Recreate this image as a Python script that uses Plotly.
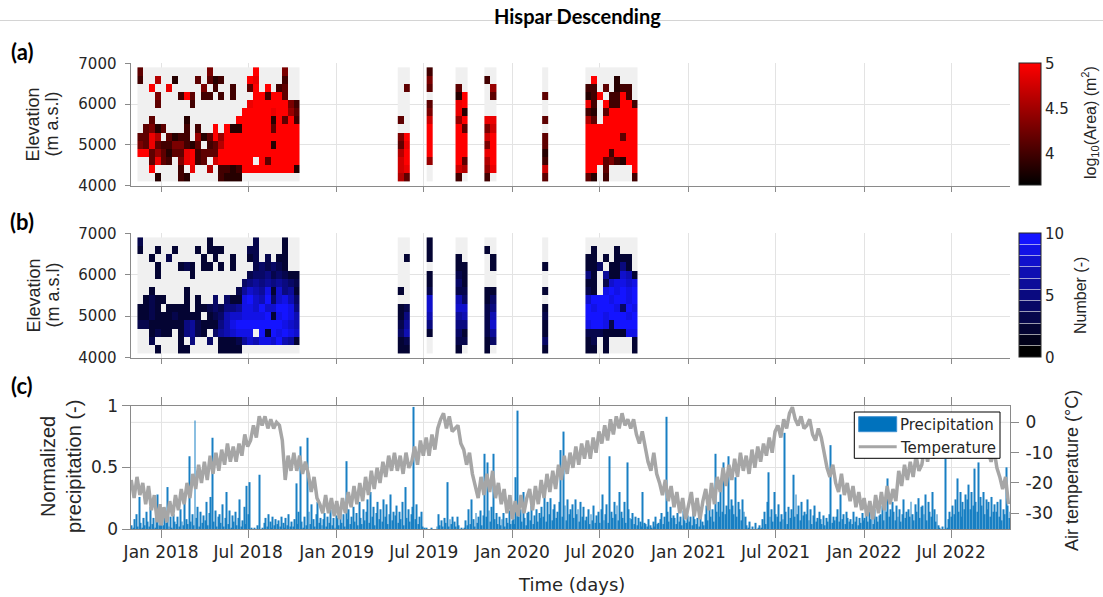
import pandas as pd
import plotly.graph_objects as go

W, H = 1103, 597
DAY_MS = 86400000

# ---------------------------------------------------------------- elevation bins
elev_edges = [4100, 4300, 4500, 4700, 4900, 5100, 5300, 5500, 5700, 5900,
              6100, 6300, 6500, 6700, 6900]

# ---------------------------------------------------------------- 12-day acquisition windows
window_starts = ["2017-11-13", "2019-05-08", "2019-07-07", "2019-09-05",
                 "2019-11-04", "2020-03-03", "2020-06-01"]
window_bins = [28, 2, 1, 2, 2, 1, 9]

# log10(area) class per cell, rows from 6800 m (top) to 4200 m (bottom); '.' = nothing detected
area_codes = [
    ["3......" ".....4." "......9" "....4..",
     "2..6..1" "...3.31" "2....98" "....2..",
     "..9..8." "....4.2" "..2..39" ".9.23..",
     "...4..." "293.22." "2.2...9" "92993..",
     "...3..." "..2...." ".....89" "9999942",
     "......." "......." "....999" "9989953",
     "..3...." ".1....." "...9999" "9919392",
     ".3413.." ".2.2..9" ".911999" "9939999",
     "3386.31" "22.5139" "5999999" "9999999",
     "4383224" "4213.23" "6999999" "9919999",
     "9935313" "3892333" "9999999" "9999999",
     "..3832." "48923.7" "999999." "9399999",
     "..9...." "2.8..6." "2212999" "9999991",
     "...1..." "21....." "2111..." "......."],
    ["..", "..", ".3", "..", "..", "..", "3.", "..", "49", "38", "69", "79", "78", "63"],
    ["2", "4", "3", ".", "3", "4", "7", "9", "9", "9", "9", "5", ".", "."],
    ["..", "..", "3.", "19", "89", "81", "59", "93", "99", "99", "99", "93", "76", "2."],
    ["..", "2.", ".5", ".3", "..", "..", "88", "47", "79", "49", "89", "69", "58", "2."],
    [".", ".", ".", "3", ".", ".", "3", ".", "3", "3", "1", "2", "7", "3"],
    [".........", ".9...1...", "22.3.122.", "129.2292.", "82.922992", "21.399999",
     "63.999999", "999999999", "999999399", "999999999", "999929999", "999342199",
     "99.3....9", "31.2....2"],
]

# number of detections per cell ('a' = 10)
count_codes = [
    ["3......" ".....2." "......3" "....2..",
     "2..2..2" "...2.22" "2....33" "....2..",
     "..2..3." "....2.2" "..2..23" ".3.22..",
     "...2..." "232.22." "2.2...3" "43432..",
     "...2..." "..2...." ".....34" "4534322",
     "......." "......." "....456" "5656543",
     "..2...." ".2....." "...3687" "6928562",
     ".2322.." ".2.2..4" ".4229a8" "7a48974",
     "2232.22" "22.2234" "3556998" "a88aa95",
     "2232223" "2222.23" "4788999" "9a29a97",
     "3322222" "2563222" "579aaaa" "aaaa987",
     "..2322." "25632.4" "678999." "a2a9a98",
     "..3...." "2.5..4." "2223687" "998a762",
     "...2..." "22....." "2222..." "......."],
    ["..", "..", ".2", "..", "..", "..", "2.", "..", "23", "25", "36", "47", "23", "22"],
    ["2", "2", "2", ".", "2", "2", "3", "8", "8", "7", "5", "2", ".", "."],
    ["..", "..", "2.", "22", "32", "42", "33", "74", "88", "67", "55", "42", "33", "2."],
    ["..", "2.", ".2", ".2", "..", "..", "22", "24", "35", "37", "38", "36", "24", "2."],
    [".", ".", ".", "2", ".", ".", "2", ".", "2", "3", "2", "2", "4", "2"],
    [".........", ".2...2...", "22.2.222.", "224.2252.", "52.622872", "22.389989",
     "32.9a9a9a", "8aaa9aa9a", "a9aaa94a9", "aaa9aaa9a", "9aa93aaaa", "333222299",
     "23.2....2", "22.2....2"],
]

AREA_LEVEL = {"1": 3.85, "2": 4.0, "3": 4.15, "4": 4.3, "5": 4.45,
              "6": 4.6, "7": 4.75, "8": 4.9, "9": 5.05}
COUNT_LEVEL = {"1": 1, "2": 2, "3": 3, "4": 4, "5": 5, "6": 6,
               "7": 7, "8": 8, "9": 9, "a": 10}

# ---------------------------------------------------------------- precipitation (% of max, 3-day steps)
precip_starts = ["2017-10-31", "2018-01-01", "2019-01-01", "2020-01-01", "2021-01-01", "2022-01-01"]
precip_2017 = [3, 1, 8, 12, 2, 26, 5, 1, 9, 3, 14, 6, 2, 18, 4, 9, 1, 12, 28, 3, 7]
precip_2018 = [8, 3, 14, 5, 34, 2, 10, 1, 12, 6, 4,
               10, 2, 16, 6, 3, 22, 8, 4, 59,
               6, 12, 3, 88, 9, 18, 2, 14, 5, 11,
               7, 22, 3, 13, 26, 74, 6, 15, 2, 10,
               12, 5, 20, 2, 9, 30, 4, 15, 1, 11, 6,
               14, 3, 9, 24, 2, 7, 18, 4, 35, 12,
               38, 1, 0, 1, 0, 3, 0, 44, 0, 1,
               5, 9, 2, 12, 6, 1, 10, 3, 8, 4,
               7, 2, 10, 5, 1, 9, 3, 12, 2, 6,
               2, 8, 37, 4, 14, 67, 6, 1, 10, 3, 74,
               14, 4, 20, 8, 2, 12, 22, 5, 9, 3,
               8, 13, 2, 10, 5, 16, 3, 9, 1, 11]
precip_2019 = [9, 3, 15, 5, 12, 2, 55, 8, 16, 4, 10,
               18, 6, 13, 3, 22, 9, 4, 16, 7,
               14, 24, 5, 30, 10, 18, 3, 13, 22, 8,
               16, 6, 24, 10, 20, 4, 12, 28, 7, 14,
               11, 19, 5, 14, 8, 22, 3, 34, 9, 16, 6,
               12, 18, 99, 8, 20, 4, 10, 14, 2, 1,
               0, 1, 0, 0, 1, 0, 0, 0, 2, 12,
               3, 7, 2, 9, 5, 38, 2, 8, 4, 10,
               6, 2, 10, 3, 0, 1, 0, 1, 7, 3,
               16, 4, 24, 8, 2, 13, 5, 10, 15, 3, 11,
               61, 10, 54, 15, 6, 18, 61, 8, 13, 4,
               10, 3, 8, 13, 2, 9, 5, 15, 4, 7]
precip_2020 = [8, 4, 42, 96, 10, 16, 6, 30, 9, 3, 13,
               14, 7, 19, 4, 11, 16, 6, 13, 9,
               18, 10, 30, 6, 22, 12, 25, 7, 16, 20, 9,
               14, 22, 64, 10, 79, 19, 7, 24, 12, 16,
               20, 9, 24, 12, 16, 6, 22, 10, 18, 7,
               10, 16, 4, 12, 7, 19, 5, 11, 14, 5,
               16, 28, 7, 12, 20, 5, 59, 14, 9, 22,
               12, 19, 7, 30, 14, 9, 22, 5, 54, 16, 9,
               8, 13, 4, 10, 3, 9, 6, 2, 30, 5,
               4, 2, 8, 3, 1, 6, 2, 10, 4, 5,
               8, 13, 4, 10, 91, 14, 6, 18, 9, 11,
               9, 4, 13, 6, 10, 3, 15, 7, 5, 11]
precip_2021 = [6, 10, 3, 15, 8, 4, 9, 2, 13, 6, 3,
               12, 19, 7, 24, 10, 16, 6, 61, 14,
               22, 10, 30, 14, 54, 12, 19, 59, 16, 24,
               19, 12, 42, 10, 22, 16, 7, 24, 14, 10,
               3, 1, 6, 0, 2, 0, 5, 0, 1, 3, 1,
               8, 14, 4, 22, 46, 10, 16, 6, 30, 12,
               10, 20, 6, 12, 8, 78, 14, 4, 18, 9,
               16, 44, 10, 28, 12, 19, 7, 22, 11, 14,
               12, 24, 7, 16, 4, 11, 19, 6, 9, 14,
               8, 4, 11, 3, 9, 6, 12, 68, 5, 10, 7,
               10, 16, 6, 28, 8, 12, 4, 14, 9, 6,
               8, 4, 14, 6, 10, 3, 9, 5, 13, 7]
precip_2022 = [9, 14, 6, 18, 8, 12, 4, 16, 10, 6, 11,
               12, 19, 7, 24, 14, 41, 10, 16, 22,
               14, 7, 19, 10, 16, 6, 12, 24, 9, 14,
               16, 10, 22, 12, 7, 20, 14, 25, 9, 18,
               19, 12, 28, 7, 22, 14, 10, 30, 16, 6, 12,
               3, 1, 0, 2, 0, 57, 1, 8, 14, 10,
               19, 12, 24, 41, 14, 30, 10, 22, 16, 28,
               24, 36, 16, 30, 19, 49, 22, 14, 54, 26,
               19, 30, 12, 24, 16, 22, 10, 26, 14, 20,
               14, 22, 10, 24, 7, 16, 12, 50, 19, 9, 14]
precip_pct = [precip_2017, precip_2018, precip_2019, precip_2020, precip_2021, precip_2022]

# ---------------------------------------------------------------- air temperature (deg C, 6-day steps)
temp_starts = ["2017-10-31", "2018-01-01", "2019-01-01", "2020-01-01", "2021-01-01", "2022-01-01"]
temp_2017 = [-19, -25, -18, -24, -20, -27, -21, -29, -24, -33, -27]
temp_2018 = [-34, -28, -33, -26, -31, -24, -29, -22, -27, -20,
             -25, -17, -22, -14, -20, -13, -19, -11, -17, -10,
             -16, -9, -14, -7, -13, -8, -13, -7, -11, -4, -8,
             -6, -1, -5, 2, -1, 2, -2, 1, -2, 0,
             -1, -6, -19, -11, -16, -10, -16, -11, -17, -13,
             -17, -23, -18, -25, -27, -30, -24, -30, -25, -31]
temp_2019 = [-26, -32, -25, -30, -23, -28, -21, -27, -20, -26,
             -18, -24, -16, -22, -15, -20, -13, -18, -11, -16,
             -10, -16, -11, -17, -10, -15, -13, -8, -14, -6, -11,
             -5, -11, -4, -9, -2, 1, 3, -2, 2, -3,
             -2, -1, -7, -9, -14, -10, -17, -21, -25, -18,
             -24, -17, -23, -16, -25, -20, -27, -22, -30, -24]
temp_2020 = [-32, -26, -31, -24, -30, -25, -22, -29, -21, -27,
             -19, -25, -17, -23, -16, -22, -14, -19, -11, -17, -10,
             -15, -8, -14, -7, -12, -6, -12, -5, -10, -3,
             -7, -1, -6, 1, -4, 2, -2, 3, -1, 1,
             -2, 1, -4, -7, -3, -8, -13, -16, -10, -17,
             -20, -24, -19, -26, -21, -28, -23, -30, -25, -32]
temp_2021 = [-27, -23, -31, -25, -32, -26, -22, -29, -20, -27,
             -18, -23, -15, -21, -14, -19, -12, -18, -10, -16,
             -11, -17, -9, -15, -8, -13, -7, -11, -5, -10, -3,
             -1, -5, 1, -2, 3, 5, 1, -1, 2, -2,
             -1, 1, -4, -6, -2, -5, -10, -15, -18, -14,
             -20, -23, -17, -24, -20, -26, -21, -28, -23, -29]
temp_2022 = [-25, -31, -26, -32, -24, -30, -23, -29, -21, -27,
             -22, -26, -16, -21, -14, -19, -13, -18, -11, -16,
             -14, -8, -13, -7, -12, -6, -10, -4, -8, -2, -7,
             -5, 0, -4, 1, -3, 0, -4, 1, -3, -5,
             -2, -7, -10, -13, -9, -15, -18, -22, -18, -27]
temp_c = [temp_2017, temp_2018, temp_2019, temp_2020, temp_2021, temp_2022]

# ---------------------------------------------------------------- time axis ticks
tick_dates = ["2018-01-01", "2018-07-01", "2019-01-01", "2019-07-01", "2020-01-01",
              "2020-07-01", "2021-01-01", "2021-07-01", "2022-01-01", "2022-07-01"]
tick_labels = ["Jan 2018", "Jul 2018", "Jan 2019", "Jul 2019", "Jan 2020",
               "Jul 2020", "Jan 2021", "Jul 2021", "Jan 2022", "Jul 2022"]
time_range = ["2017-10-29 12:00", "2022-10-31 06:00"]


# ================================================================= helpers
def px_x(p):
    return p / W


def px_y(p):
    return 1 - p / H


def decode(rows, table):
    grid = [[table.get(ch) for ch in row] for row in rows]
    return grid[::-1]


def window_edges(start, nbins):
    t0 = pd.Timestamp(start)
    return [(t0 + pd.Timedelta(days=12 * k)).strftime("%Y-%m-%d %H:%M:%S") for k in range(nbins + 1)]


fig = go.Figure()

# ---------------------------------------------------------------- panels (a) and (b)
for start, nb, acodes, ccodes in zip(window_starts, window_bins, area_codes, count_codes):
    xe = window_edges(start, nb)
    for xa, ya in (("x", "y"), ("x2", "y2")):
        fig.add_trace(go.Heatmap(
            x=xe, y=elev_edges, z=[[1] * nb for _ in range(len(elev_edges) - 1)],
            colorscale=[[0, "#f0f0f0"], [1, "#f0f0f0"]], zmin=0, zmax=1,
            showscale=False, hoverinfo="skip", xaxis=xa, yaxis=ya))
    fig.add_trace(go.Heatmap(x=xe, y=elev_edges, z=decode(acodes, AREA_LEVEL),
                             coloraxis="coloraxis", xaxis="x", yaxis="y"))
    fig.add_trace(go.Heatmap(x=xe, y=elev_edges, z=decode(ccodes, COUNT_LEVEL),
                             coloraxis="coloraxis2", xaxis="x2", yaxis="y2"))

# ---------------------------------------------------------------- panel (c)
p_x, p_y = [], []
for start, vals in zip(precip_starts, precip_pct):
    t0 = pd.Timestamp(start)
    for i, v in enumerate(vals):
        p_x.append(t0 + pd.Timedelta(days=3 * i + 1.5))
        p_y.append(v / 100.0)

t_x, t_y = [], []
for start, vals in zip(temp_starts, temp_c):
    t0 = pd.Timestamp(start)
    for i, v in enumerate(vals):
        t_x.append(t0 + pd.Timedelta(days=6 * i))
        t_y.append(v)

fig.add_trace(go.Bar(x=p_x, y=p_y, width=2 * DAY_MS,
                     marker=dict(color="#0072BD", line=dict(width=0)), opacity=0.9,
                     xaxis="x3", yaxis="y3", hoverinfo="skip"))
fig.add_trace(go.Scatter(x=t_x, y=t_y, mode="lines",
                         line=dict(color="#a6a6a6", width=3.5),
                         xaxis="x3", yaxis="y4", hoverinfo="skip"))

# ---------------------------------------------------------------- colour scales
red_scale = [[0, "rgb(0,0,0)"], [1, "rgb(255,0,0)"]]

n_band = 11
band_cols = [(2 * k, 2 * k, round(255 * k / 10)) for k in range(n_band)]
blue_scale = []
eps = 0.004
for k, (r, g, b) in enumerate(band_cols):
    lo = k / n_band + (eps if k > 0 else 0)
    hi = (k + 1) / n_band - (eps if k < n_band - 1 else 0)
    col = f"rgb({r},{g},{b})"
    blue_scale += [[lo, col], [hi, col]]
    if k < n_band - 1:
        sr, sg, sb = [int(c + (255 - c) * 0.6) for c in (r, g, b)]
        blue_scale += [[hi, f"rgb({sr},{sg},{sb})"], [hi + 2 * eps, f"rgb({sr},{sg},{sb})"]]
blue_scale[-1][0] = 1.0

# ---------------------------------------------------------------- styling
AX = "#8a8a8a"
GRID = "#e3e3e3"
TXT = "#262626"
TICKF = dict(family="DejaVu Sans", size=15, color=TXT)
XD = [px_x(130.5), px_x(1010)]

dom_a = [px_y(185.7), px_y(63.3)]
dom_b = [px_y(357.7), px_y(233.3)]
dom_c = [px_y(529), px_y(405.7)]

x_common = dict(type="date", range=time_range, domain=XD, tickvals=tick_dates,
                showgrid=True, gridcolor=GRID, gridwidth=1, zeroline=False,
                showline=True, linecolor=AX, linewidth=1, ticks="outside",
                tickcolor=AX)
y_elev = dict(range=[4000, 7000], tickvals=[4000, 5000, 6000, 7000],
              ticktext=["4000", "5000", "6000", "7000"], showgrid=True,
              gridcolor=GRID, zeroline=False, showline=True, linecolor=AX,
              linewidth=1, ticks="outside", ticklen=5, tickcolor=AX,
              tickfont=TICKF, ticklabelstandoff=5)


def cbar(top, length, tickvals, ticktext):
    return dict(x=px_x(1019), xanchor="left", y=px_y(top), yanchor="top",
                len=length, lenmode="pixels", thickness=22, thicknessmode="pixels",
                xpad=0, ypad=0, outlinecolor=TXT, outlinewidth=1,
                tickvals=tickvals, ticktext=ticktext, ticks="",
                tickfont=TICKF)


fig.update_layout(
    width=W, height=H, margin=dict(l=0, r=0, t=0, b=0, autoexpand=False),
    paper_bgcolor="white", plot_bgcolor="white", showlegend=False,
    xaxis=dict(**x_common, anchor="y", showticklabels=False, ticklen=5),
    xaxis2=dict(**x_common, anchor="y2", showticklabels=False, ticklen=5, matches="x"),
    xaxis3=dict(**x_common, anchor="y3", ticktext=tick_labels, ticklen=8,
                mirror="ticks", matches="x",
                tickfont=dict(family="DejaVu Sans", size=17, color=TXT)),
    yaxis=dict(**y_elev, domain=dom_a, anchor="x"),
    yaxis2=dict(**y_elev, domain=dom_b, anchor="x2"),
    yaxis3=dict(domain=dom_c, anchor="x3", range=[0, 1], tickvals=[0, 0.5, 1],
                ticktext=["0", "0.5", "1"], showgrid=True, gridcolor=GRID,
                zeroline=False, showline=True, linecolor=AX, linewidth=1,
                ticks="outside", ticklen=8, tickcolor=AX,
                tickfont=dict(family="DejaVu Sans", size=17, color=TXT)),
    yaxis4=dict(overlaying="y3", anchor="x3", side="right", range=[-35.2, 5.5],
                tickvals=[-30, -20, -10, 0], ticktext=["-30", "-20", "-10", "0"],
                showgrid=False, zeroline=False, showline=True, linecolor=AX,
                linewidth=1, ticks="outside", ticklen=8, tickcolor=AX,
                tickfont=dict(family="DejaVu Sans", size=17, color=TXT),
                ticklabelstandoff=3),
    coloraxis=dict(colorscale=red_scale, cmin=3.65, cmax=5.0,
                   colorbar=cbar(63.3, 122.4, [4, 4.5, 5], ["4", "4.5", "5"])),
    coloraxis2=dict(colorscale=blue_scale, cmin=0, cmax=10,
                    colorbar=cbar(233.3, 124.4, [0, 5, 10], ["0", "5", "10"])),
)

shapes = [
    # header rule
    dict(type="line", xref="paper", yref="paper", x0=0, x1=1, y0=px_y(20.5), y1=px_y(20.5),
         line=dict(color="#d4d4d4", width=1), layer="below"),
    # 0 degC grid line
    dict(type="line", xref="x3 domain", yref="y4", x0=0, x1=1, y0=0, y1=0,
         line=dict(color=GRID, width=1), layer="below"),
    # legend box
    dict(type="rect", xref="paper", yref="paper", x0=px_x(854.3), x1=px_x(1000),
         y0=px_y(458.3), y1=px_y(412), fillcolor="white", line=dict(color="black", width=1),
         layer="above"),
    dict(type="rect", xref="paper", yref="paper", x0=px_x(858.7), x1=px_x(896.7),
         y0=px_y(431.7), y1=px_y(416.7), fillcolor="#0072BD", line=dict(color="#3c8fd0", width=1),
         layer="above"),
    dict(type="line", xref="paper", yref="paper", x0=px_x(858.7), x1=px_x(896.7),
         y0=px_y(446.7), y1=px_y(446.7), line=dict(color="#a6a6a6", width=3), layer="above"),
]
fig.update_layout(shapes=shapes)


def ann(text, x, y, size, family="Liberation Sans", angle=0, xanchor="center", bold=False):
    return dict(text=text, x=px_x(x), y=px_y(y), xref="paper", yref="paper",
                showarrow=False, textangle=angle, xanchor=xanchor, yanchor="middle",
                font=dict(family=family, size=size, color="black" if bold else TXT))


annotations = [
    ann("<b>Hispar Descending</b>", 577, 16, 20, family="Lato", bold=True),
    ann("<b>(a)</b>", 22, 52, 22, family="Lato", bold=True),
    ann("<b>(b)</b>", 22, 221, 22, family="Lato", bold=True),
    ann("<b>(c)</b>", 22, 385, 22, family="Lato", bold=True),
    ann("Elevation", 33, 124.5, 18, angle=-90),
    ann("(m a.s.l)", 52, 124.5, 18, angle=-90),
    ann("Elevation", 33, 295.5, 18, angle=-90),
    ann("(m a.s.l)", 52, 295.5, 18, angle=-90),
    ann("Normalized", 48, 467, 20, angle=-90),
    ann("precipitation (-)", 74, 467, 20, angle=-90),
    ann("Air temperature (°C)", 1072, 471, 18, angle=-90),
    ann("log<sub>10</sub>(Area) (m<sup>2</sup>)", 1090, 123, 16, angle=-90),
    ann("Number (-)", 1080, 296, 16, angle=-90),
    ann("Time (days)", 571, 584, 18, family="DejaVu Sans"),
    ann("Precipitation", 898, 425, 15, family="DejaVu Sans", xanchor="left"),
    ann("Temperature", 898, 447.5, 15, family="DejaVu Sans", xanchor="left"),
]
fig.update_layout(annotations=annotations)

fig.write_html("out.html")
